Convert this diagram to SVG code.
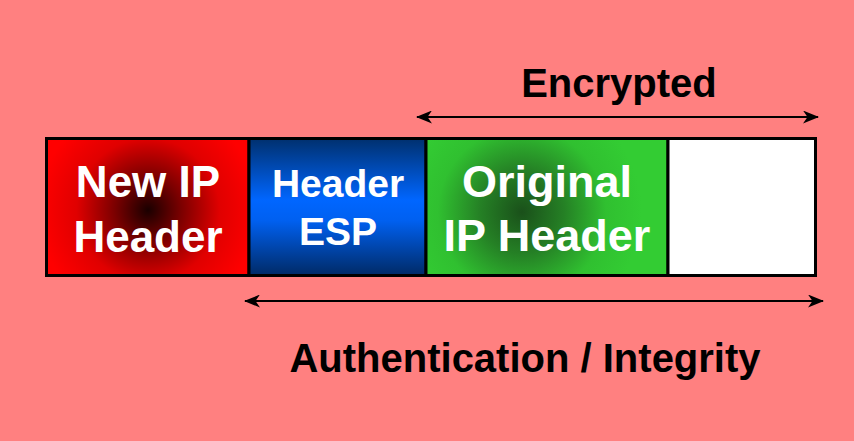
<svg xmlns="http://www.w3.org/2000/svg" width="854" height="441" viewBox="0 0 854 441">
  <style>
    .cell { stroke: #000; stroke-width: 3; }
    .lbl { font-family: "Liberation Sans", Arial, sans-serif; font-weight: bold; fill: #fff; text-anchor: middle; }
    .cap { font-family: "Liberation Sans", Arial, sans-serif; font-weight: bold; fill: #000; text-anchor: middle; }
    .span { stroke: #000; stroke-width: 2; fill: none; marker-start: url(#tip); marker-end: url(#tip); }
  </style>
  <defs>
    <radialGradient id="redGlow" gradientUnits="userSpaceOnUse" cx="148" cy="210" r="110">
      <stop offset="0" stop-color="#1a0000"/>
      <stop offset="0.3" stop-color="#7a0000"/>
      <stop offset="0.65" stop-color="#e00000"/>
      <stop offset="1" stop-color="#ff0000"/>
    </radialGradient>
    <linearGradient id="blueBand" x1="0" y1="0" x2="0" y2="1">
      <stop offset="0" stop-color="#00306e"/>
      <stop offset="0.45" stop-color="#0066ff"/>
      <stop offset="0.6" stop-color="#0060f0"/>
      <stop offset="1" stop-color="#002a66"/>
    </linearGradient>
    <radialGradient id="greenGlow" gradientUnits="userSpaceOnUse" cx="522" cy="212" r="120">
      <stop offset="0" stop-color="#1a501a"/>
      <stop offset="0.35" stop-color="#258025"/>
      <stop offset="0.7" stop-color="#30c030"/>
      <stop offset="1" stop-color="#33cc33"/>
    </radialGradient>
    <marker id="tip" viewBox="0 0 16 13" refX="15" refY="6.5" markerWidth="16" markerHeight="13" markerUnits="userSpaceOnUse" orient="auto-start-reverse">
      <path d="M0,0 L16,6.5 L0,13 L4.5,6.5 Z" fill="#000"/>
    </marker>
  </defs>

  <rect width="854" height="441" fill="#ff8080"/>

  <g id="new-ip-header">
    <rect class="cell" x="46.5" y="138.5" width="202.5" height="137" fill="url(#redGlow)"/>
    <text class="lbl" x="148" y="197" font-size="44">New IP</text>
    <text class="lbl" x="148" y="252" font-size="44">Header</text>
  </g>

  <g id="esp-header">
    <rect class="cell" x="249" y="138.5" width="177" height="137" fill="url(#blueBand)"/>
    <text class="lbl" x="338" y="197" font-size="39">Header</text>
    <text class="lbl" x="338" y="245" font-size="39">ESP</text>
  </g>

  <g id="original-ip-header">
    <rect class="cell" x="426" y="138.5" width="242" height="137" fill="url(#greenGlow)"/>
    <text class="lbl" x="547" y="197" font-size="45">Original</text>
    <text class="lbl" x="547" y="251" font-size="45">IP Header</text>
  </g>

  <g id="payload">
    <rect class="cell" x="668" y="138.5" width="147.5" height="137" fill="#fff"/>
  </g>

  <g id="connectors">
    <line class="span" x1="417" y1="117" x2="818" y2="117"/>
    <line class="span" x1="245" y1="301" x2="823" y2="301"/>
  </g>

  <text class="cap" x="619" y="97" font-size="40">Encrypted</text>
  <text class="cap" x="525" y="372" font-size="40">Authentication / Integrity</text>
</svg>
